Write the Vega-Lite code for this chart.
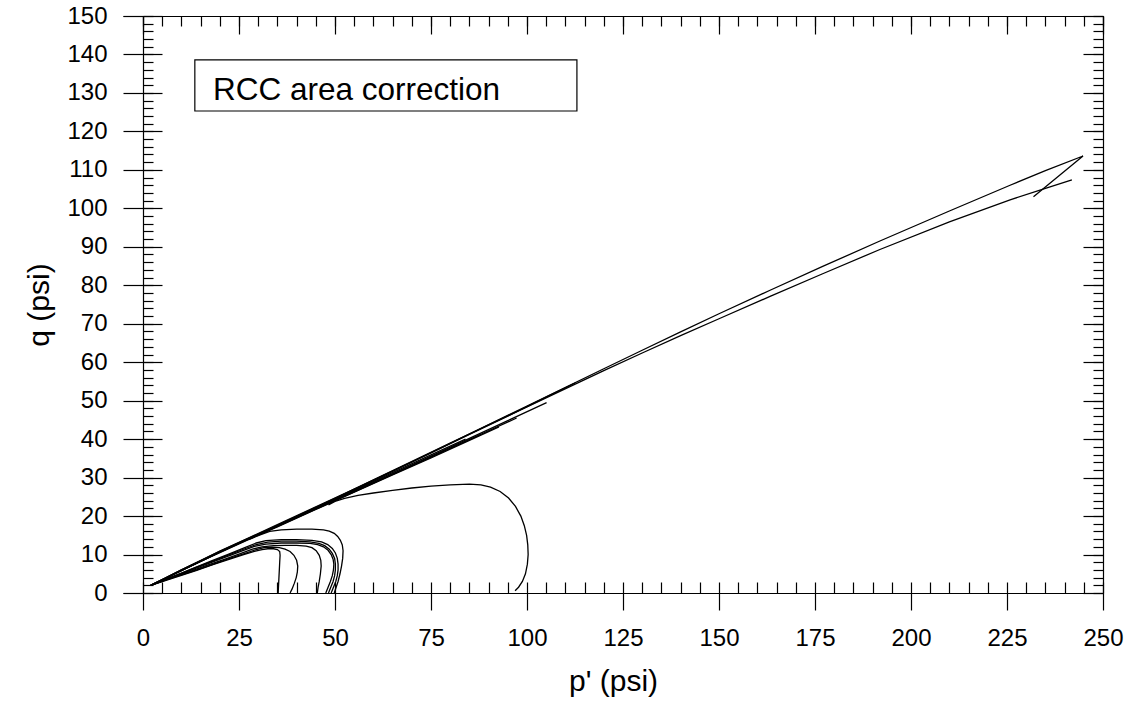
{
"$schema": "https://vega.github.io/schema/vega-lite/v6.json",
"width": 980, "height": 577,
"autosize": {"type": "none"},
"padding": {"left": 123, "top": 16, "right": 30, "bottom": 126},
"background": "white",
"config": {
 "view": {"stroke": null},
 "axis": {"grid": false, "domainColor": "black", "tickColor": "black", "labelColor": "black", "titleColor": "black",
  "labelFont": "Liberation Sans", "titleFont": "Liberation Sans", "labelFontSize": 24, "titleFontSize": 30,
  "titleFontWeight": "normal", "domainWidth": 1.2, "tickWidth": 1.2, "labelFlush": false, "labelOverlap": false}
},
"resolve": {"axis": {"x": "independent", "y": "independent"}},
"layer": [
 {
  "data": {"values": [
   {"t":"T1","i":0,"p":35.2,"q":0},{"t":"T1","i":1,"p":35.3,"q":2},{"t":"T1","i":2,"p":35.4,"q":4},{"t":"T1","i":3,"p":35.5,"q":6},{"t":"T1","i":4,"p":35.6,"q":8},{"t":"T1","i":5,"p":35.7,"q":9.8},{"t":"T1","i":6,"p":35.6,"q":10.8},{"t":"T1","i":7,"p":35.0,"q":11.3},{"t":"T1","i":8,"p":34.0,"q":11.5},{"t":"T1","i":9,"p":32.5,"q":11.5},{"t":"T1","i":10,"p":31,"q":11.3},{"t":"T1","i":11,"p":29,"q":10.8},{"t":"T1","i":12,"p":26,"q":9.9},{"t":"T1","i":13,"p":22,"q":8.6},{"t":"T1","i":14,"p":18,"q":7.3},{"t":"T1","i":15,"p":14,"q":5.9},{"t":"T1","i":16,"p":10,"q":4.6},{"t":"T1","i":17,"p":6,"q":3.3},{"t":"T1","i":18,"p":2,"q":2},{"t":"T1","i":19,"p":6,"q":3.9},{"t":"T1","i":20,"p":10,"q":5.8},{"t":"T1","i":21,"p":15,"q":8.2},{"t":"T1","i":22,"p":20,"q":10.5},{"t":"T1","i":23,"p":27,"q":13.7},{"t":"T1","i":24,"p":35,"q":17.2},{"t":"T1","i":25,"p":45,"q":21.7},{"t":"T1","i":26,"p":55,"q":26.2},{"t":"T1","i":27,"p":65,"q":30.7},{"t":"T1","i":28,"p":75,"q":35.1},{"t":"T1","i":29,"p":85,"q":39.7},{"t":"T1","i":30,"p":92.7,"q":43.2},
   {"t":"T2","i":0,"p":38.3,"q":0},{"t":"T2","i":1,"p":38.8,"q":1},{"t":"T2","i":2,"p":39.4,"q":2.5},{"t":"T2","i":3,"p":39.9,"q":4},{"t":"T2","i":4,"p":40.2,"q":5.5},{"t":"T2","i":5,"p":40.3,"q":7},{"t":"T2","i":6,"p":40,"q":8.5},{"t":"T2","i":7,"p":39.3,"q":9.8},{"t":"T2","i":8,"p":38.3,"q":10.8},{"t":"T2","i":9,"p":37,"q":11.4},{"t":"T2","i":10,"p":35.5,"q":11.8},{"t":"T2","i":11,"p":33.5,"q":11.9},{"t":"T2","i":12,"p":31.5,"q":11.8},{"t":"T2","i":13,"p":29.5,"q":11.3},{"t":"T2","i":14,"p":26,"q":10.1},{"t":"T2","i":15,"p":22,"q":8.8},{"t":"T2","i":16,"p":18,"q":7.4},{"t":"T2","i":17,"p":14,"q":6.0},{"t":"T2","i":18,"p":10,"q":4.7},{"t":"T2","i":19,"p":6,"q":3.4},{"t":"T2","i":20,"p":2,"q":2},{"t":"T2","i":21,"p":6,"q":3.9},{"t":"T2","i":22,"p":10,"q":5.8},{"t":"T2","i":23,"p":15,"q":8.2},{"t":"T2","i":24,"p":20,"q":10.6},{"t":"T2","i":25,"p":27,"q":13.8},{"t":"T2","i":26,"p":35,"q":17.3},{"t":"T2","i":27,"p":45,"q":21.8},{"t":"T2","i":28,"p":55,"q":26.3},{"t":"T2","i":29,"p":65,"q":30.8},{"t":"T2","i":30,"p":75,"q":35.3},{"t":"T2","i":31,"p":85,"q":39.9},{"t":"T2","i":32,"p":97.3,"q":45.5},
   {"t":"T3","i":0,"p":45.4,"q":0},{"t":"T3","i":1,"p":45.6,"q":1.5},{"t":"T3","i":2,"p":45.9,"q":3},{"t":"T3","i":3,"p":46.2,"q":5},{"t":"T3","i":4,"p":46.4,"q":7},{"t":"T3","i":5,"p":46.3,"q":8.5},{"t":"T3","i":6,"p":45.9,"q":9.8},{"t":"T3","i":7,"p":45.1,"q":11},{"t":"T3","i":8,"p":44,"q":11.8},{"t":"T3","i":9,"p":42.5,"q":12.2},{"t":"T3","i":10,"p":40,"q":12.4},{"t":"T3","i":11,"p":37,"q":12.4},{"t":"T3","i":12,"p":34,"q":12.3},{"t":"T3","i":13,"p":31,"q":12},{"t":"T3","i":14,"p":28.5,"q":11.4},{"t":"T3","i":15,"p":25,"q":10.1},{"t":"T3","i":16,"p":21,"q":8.7},{"t":"T3","i":17,"p":17,"q":7.3},{"t":"T3","i":18,"p":13,"q":5.9},{"t":"T3","i":19,"p":9,"q":4.5},{"t":"T3","i":20,"p":5,"q":3.1},{"t":"T3","i":21,"p":2,"q":2},{"t":"T3","i":22,"p":6,"q":3.9},{"t":"T3","i":23,"p":10,"q":5.9},{"t":"T3","i":24,"p":15,"q":8.3},{"t":"T3","i":25,"p":20,"q":10.7},{"t":"T3","i":26,"p":27,"q":13.9},{"t":"T3","i":27,"p":35,"q":17.5},{"t":"T3","i":28,"p":45,"q":22.0},{"t":"T3","i":29,"p":55,"q":26.5},{"t":"T3","i":30,"p":65,"q":31.0},{"t":"T3","i":31,"p":75,"q":35.6},{"t":"T3","i":32,"p":85,"q":40.2},{"t":"T3","i":33,"p":95,"q":44.8},{"t":"T3","i":34,"p":105.1,"q":49.5},
   {"t":"T4","i":0,"p":47.6,"q":0},{"t":"T4","i":1,"p":48.2,"q":1.5},{"t":"T4","i":2,"p":48.8,"q":3},{"t":"T4","i":3,"p":49.3,"q":4.5},{"t":"T4","i":4,"p":49.6,"q":6},{"t":"T4","i":5,"p":49.7,"q":7.5},{"t":"T4","i":6,"p":49.5,"q":8.8},{"t":"T4","i":7,"p":49,"q":10},{"t":"T4","i":8,"p":48.2,"q":11.1},{"t":"T4","i":9,"p":47,"q":12},{"t":"T4","i":10,"p":45.5,"q":12.6},{"t":"T4","i":11,"p":43.5,"q":12.9},{"t":"T4","i":12,"p":40,"q":13},{"t":"T4","i":13,"p":36,"q":13},{"t":"T4","i":14,"p":32,"q":12.7},{"t":"T4","i":15,"p":29,"q":12.1},{"t":"T4","i":16,"p":26,"q":11},{"t":"T4","i":17,"p":22,"q":9.5},{"t":"T4","i":18,"p":18,"q":8},{"t":"T4","i":19,"p":14,"q":6.5},{"t":"T4","i":20,"p":10,"q":5},{"t":"T4","i":21,"p":6,"q":3.5},{"t":"T4","i":22,"p":2,"q":2},{"t":"T4","i":23,"p":6,"q":4},{"t":"T4","i":24,"p":10,"q":6},{"t":"T4","i":25,"p":15,"q":8.4},{"t":"T4","i":26,"p":20,"q":10.9},{"t":"T4","i":27,"p":27,"q":14.1},{"t":"T4","i":28,"p":35,"q":17.8},{"t":"T4","i":29,"p":45,"q":22.4},{"t":"T4","i":30,"p":55,"q":27.0},{"t":"T4","i":31,"p":65,"q":31.7},{"t":"T4","i":32,"p":75,"q":36.4},{"t":"T4","i":33,"p":85,"q":41.2},{"t":"T4","i":34,"p":95,"q":46.0},{"t":"T4","i":35,"p":105,"q":50.9},{"t":"T4","i":36,"p":112.5,"q":54.6},
   {"t":"T5","i":0,"p":48.3,"q":0},{"t":"T5","i":1,"p":48.9,"q":1.5},{"t":"T5","i":2,"p":49.5,"q":3},{"t":"T5","i":3,"p":49.9,"q":4.5},{"t":"T5","i":4,"p":50.1,"q":6},{"t":"T5","i":5,"p":50.1,"q":7.5},{"t":"T5","i":6,"p":49.9,"q":9},{"t":"T5","i":7,"p":49.3,"q":10.3},{"t":"T5","i":8,"p":48.5,"q":11.4},{"t":"T5","i":9,"p":47.3,"q":12.3},{"t":"T5","i":10,"p":45.8,"q":12.9},{"t":"T5","i":11,"p":43.5,"q":13.3},{"t":"T5","i":12,"p":40,"q":13.5},{"t":"T5","i":13,"p":36,"q":13.5},{"t":"T5","i":14,"p":32.5,"q":13.2},{"t":"T5","i":15,"p":29.5,"q":12.6},{"t":"T5","i":16,"p":26.5,"q":11.5},{"t":"T5","i":17,"p":22,"q":9.8},{"t":"T5","i":18,"p":18,"q":8.2},{"t":"T5","i":19,"p":14,"q":6.7},{"t":"T5","i":20,"p":10,"q":5.1},{"t":"T5","i":21,"p":6,"q":3.6},{"t":"T5","i":22,"p":2,"q":2},{"t":"T5","i":23,"p":6,"q":3.9},{"t":"T5","i":24,"p":10,"q":5.9},{"t":"T5","i":25,"p":15,"q":8.2},{"t":"T5","i":26,"p":20,"q":10.6},{"t":"T5","i":27,"p":27,"q":13.8},{"t":"T5","i":28,"p":35,"q":17.4},{"t":"T5","i":29,"p":45,"q":21.9},{"t":"T5","i":30,"p":55,"q":26.4},{"t":"T5","i":31,"p":65,"q":30.9},{"t":"T5","i":32,"p":75,"q":35.4},{"t":"T5","i":33,"p":88,"q":41.2},
   {"t":"T6","i":0,"p":49,"q":0},{"t":"T6","i":1,"p":49.6,"q":1.5},{"t":"T6","i":2,"p":50.2,"q":3},{"t":"T6","i":3,"p":50.6,"q":4.5},{"t":"T6","i":4,"p":50.8,"q":6},{"t":"T6","i":5,"p":50.8,"q":7.5},{"t":"T6","i":6,"p":50.6,"q":9},{"t":"T6","i":7,"p":50.1,"q":10.4},{"t":"T6","i":8,"p":49.3,"q":11.6},{"t":"T6","i":9,"p":48.1,"q":12.6},{"t":"T6","i":10,"p":46.5,"q":13.3},{"t":"T6","i":11,"p":44,"q":13.7},{"t":"T6","i":12,"p":40,"q":13.9},{"t":"T6","i":13,"p":36,"q":13.9},{"t":"T6","i":14,"p":32,"q":13.6},{"t":"T6","i":15,"p":29.5,"q":13},{"t":"T6","i":16,"p":26.5,"q":11.8},{"t":"T6","i":17,"p":22,"q":10},{"t":"T6","i":18,"p":18,"q":8.4},{"t":"T6","i":19,"p":14,"q":6.8},{"t":"T6","i":20,"p":10,"q":5.2},{"t":"T6","i":21,"p":6,"q":3.6},{"t":"T6","i":22,"p":2,"q":2},{"t":"T6","i":23,"p":6,"q":4},{"t":"T6","i":24,"p":10,"q":6},{"t":"T6","i":25,"p":15,"q":8.4},{"t":"T6","i":26,"p":20,"q":10.8},{"t":"T6","i":27,"p":27,"q":14.0},{"t":"T6","i":28,"p":35,"q":17.6},{"t":"T6","i":29,"p":45,"q":22.2},{"t":"T6","i":30,"p":55,"q":26.7},{"t":"T6","i":31,"p":65,"q":31.3},{"t":"T6","i":32,"p":75,"q":35.9},{"t":"T6","i":33,"p":84,"q":40.0},
   {"t":"T7","i":0,"p":49.8,"q":0},{"t":"T7","i":1,"p":50.3,"q":1.5},{"t":"T7","i":2,"p":50.8,"q":3},{"t":"T7","i":3,"p":51.3,"q":5},{"t":"T7","i":4,"p":51.7,"q":7},{"t":"T7","i":5,"p":52,"q":9},{"t":"T7","i":6,"p":52.1,"q":11},{"t":"T7","i":7,"p":51.9,"q":12.5},{"t":"T7","i":8,"p":51.4,"q":13.7},{"t":"T7","i":9,"p":50.7,"q":14.7},{"t":"T7","i":10,"p":49.8,"q":15.5},{"t":"T7","i":11,"p":48.5,"q":16.1},{"t":"T7","i":12,"p":47,"q":16.4},{"t":"T7","i":13,"p":44,"q":16.6},{"t":"T7","i":14,"p":40,"q":16.6},{"t":"T7","i":15,"p":36,"q":16.4},{"t":"T7","i":16,"p":33,"q":16},{"t":"T7","i":17,"p":30.5,"q":15.1},{"t":"T7","i":18,"p":27.5,"q":13.9},{"t":"T7","i":19,"p":30,"q":15.1},{"t":"T7","i":20,"p":35,"q":17.5},{"t":"T7","i":21,"p":40,"q":19.9},{"t":"T7","i":22,"p":50,"q":24.6},{"t":"T7","i":23,"p":60,"q":29.4},{"t":"T7","i":24,"p":80,"q":39.0},{"t":"T7","i":25,"p":100,"q":48.4},{"t":"T7","i":26,"p":120,"q":57.8},{"t":"T7","i":27,"p":130,"q":62.4},{"t":"T7","i":28,"p":140,"q":66.9},{"t":"T7","i":29,"p":150,"q":71.3},{"t":"T7","i":30,"p":163.3,"q":77.1},{"t":"T7","i":31,"p":177,"q":83.0},{"t":"T7","i":32,"p":191.9,"q":89.3},{"t":"T7","i":33,"p":210,"q":96.5},{"t":"T7","i":34,"p":225.8,"q":102.2},{"t":"T7","i":35,"p":235,"q":105.2},{"t":"T7","i":36,"p":241.9,"q":107.4},
   {"t":"T8","i":0,"p":96.9,"q":0.6},{"t":"T8","i":1,"p":97.8,"q":1.5},{"t":"T8","i":2,"p":98.8,"q":3},{"t":"T8","i":3,"p":99.6,"q":5},{"t":"T8","i":4,"p":100.1,"q":7.5},{"t":"T8","i":5,"p":100.3,"q":10},{"t":"T8","i":6,"p":100.2,"q":12.5},{"t":"T8","i":7,"p":99.9,"q":15},{"t":"T8","i":8,"p":99.3,"q":17.5},{"t":"T8","i":9,"p":98.4,"q":20},{"t":"T8","i":10,"p":97,"q":22.5},{"t":"T8","i":11,"p":95.2,"q":24.7},{"t":"T8","i":12,"p":93,"q":26.4},{"t":"T8","i":13,"p":90.5,"q":27.5},{"t":"T8","i":14,"p":88,"q":28.1},{"t":"T8","i":15,"p":85,"q":28.3},{"t":"T8","i":16,"p":80,"q":28.1},{"t":"T8","i":17,"p":75,"q":27.8},{"t":"T8","i":18,"p":70,"q":27.3},{"t":"T8","i":19,"p":65,"q":26.7},{"t":"T8","i":20,"p":60,"q":26},{"t":"T8","i":21,"p":56,"q":25.4},{"t":"T8","i":22,"p":52.5,"q":24.6},{"t":"T8","i":23,"p":50,"q":23.8},{"t":"T8","i":24,"p":48.3,"q":22.9},{"t":"T8","i":25,"p":52,"q":25.3},{"t":"T8","i":26,"p":62,"q":30.2},{"t":"T8","i":27,"p":80,"q":38.9},{"t":"T8","i":28,"p":100,"q":48.6},{"t":"T8","i":29,"p":120,"q":58.3},{"t":"T8","i":30,"p":130,"q":63.1},{"t":"T8","i":31,"p":140,"q":67.9},{"t":"T8","i":32,"p":150,"q":72.6},{"t":"T8","i":33,"p":163.3,"q":78.7},{"t":"T8","i":34,"p":177,"q":84.9},{"t":"T8","i":35,"p":191.9,"q":91.5},{"t":"T8","i":36,"p":210,"q":99.3},{"t":"T8","i":37,"p":225.8,"q":106.0},{"t":"T8","i":38,"p":235,"q":109.8},{"t":"T8","i":39,"p":244.8,"q":113.6},{"t":"T8","i":40,"p":231.9,"q":103.0}
  ]},
  "mark": {"type": "line", "color": "black", "strokeWidth": 1.3, "interpolate": "linear"},
  "encoding": {
   "x": {"field": "p", "type": "quantitative", "scale": {"domain": [-5.2083, 250], "nice": false, "zero": false},
     "axis": {"orient": "bottom", "values": [0,25,50,75,100,125,150,175,200,225,250], "tickSize": 17, "labelPadding": 16, "title": "p' (psi)", "titlePadding": 16}},
   "y": {"field": "q", "type": "quantitative", "scale": {"domain": [0, 150], "nice": false, "zero": false},
     "axis": {"orient": "left", "offset": -20, "values": [0,10,20,30,40,50,60,70,80,90,100,110,120,130,140,150], "tickSize": 20, "labelPadding": 16, "title": "q (psi)", "titlePadding": 12}},
   "detail": {"field": "t"},
   "order": {"field": "i", "type": "quantitative"}
  }
 },
 {
  "data": {"values": [{}]},
  "mark": {"type": "point", "opacity": 0},
  "encoding": {
   "x": {"datum": 0, "type": "quantitative", "axis": {"orient": "bottom", "values": [0,5,10,15,20,25,30,35,40,45,50,55,60,65,70,75,80,85,90,95,100,105,110,115,120,125,130,135,140,145,150,155,160,165,170,175,180,185,190,195,200,205,210,215,220,225,230,235,240,245,250], "tickSize": -11, "labels": false, "domain": false, "title": null}},
   "y": {"datum": 0, "type": "quantitative", "axis": {"orient": "left", "offset": -20, "values": [0,2,4,6,8,10,12,14,16,18,20,22,24,26,28,30,32,34,36,38,40,42,44,46,48,50,52,54,56,58,60,62,64,66,68,70,72,74,76,78,80,82,84,86,88,90,92,94,96,98,100,102,104,106,108,110,112,114,116,118,120,122,124,126,128,130,132,134,136,138,140,142,144,146,148,150], "tickSize": -10, "labels": false, "domain": false, "title": null}}
  }
 },
 {
  "data": {"values": [{}]},
  "mark": {"type": "point", "opacity": 0},
  "encoding": {
   "x": {"datum": 0, "type": "quantitative", "axis": {"orient": "top", "values": [0,5,10,15,20,25,30,35,40,45,50,55,60,65,70,75,80,85,90,95,100,105,110,115,120,125,130,135,140,145,150,155,160,165,170,175,180,185,190,195,200,205,210,215,220,225,230,235,240,245,250], "tickSize": -10, "labels": false, "domain": true, "title": null}},
   "y": {"datum": 0, "type": "quantitative", "axis": {"orient": "left", "offset": -20, "values": [0,10,20,30,40,50,60,70,80,90,100,110,120,130,140,150], "tickSize": -19, "labels": false, "domain": false, "title": null}}
  }
 },
 {
  "data": {"values": [{}]},
  "mark": {"type": "point", "opacity": 0},
  "encoding": {
   "x": {"datum": 0, "type": "quantitative", "axis": {"orient": "top", "values": [0,25,50,75,100,125,150,175,200,225,250], "tickSize": -18, "labels": false, "domain": false, "title": null}},
   "y": {"datum": 0, "type": "quantitative", "axis": {"orient": "right", "values": [0,2,4,6,8,10,12,14,16,18,20,22,24,26,28,30,32,34,36,38,40,42,44,46,48,50,52,54,56,58,60,62,64,66,68,70,72,74,76,78,80,82,84,86,88,90,92,94,96,98,100,102,104,106,108,110,112,114,116,118,120,122,124,126,128,130,132,134,136,138,140,142,144,146,148,150], "tickSize": -10, "labels": false, "domain": true, "title": null}}
  }
 },
 {
  "data": {"values": [{}]},
  "mark": {"type": "point", "opacity": 0},
  "encoding": {
   "x": {"datum": 0, "type": "quantitative", "axis": null},
   "y": {"datum": 0, "type": "quantitative", "axis": {"orient": "right", "values": [0,10,20,30,40,50,60,70,80,90,100,110,120,130,140,150], "tickSize": -20, "labels": false, "domain": false, "title": null}}
  }
 },
 {
  "data": {"values": [{}]},
  "mark": {"type": "rect", "fill": "white", "stroke": "black", "strokeWidth": 1.2},
  "encoding": {
   "x": {"datum": 13.5, "type": "quantitative", "axis": null},
   "x2": {"datum": 113.0},
   "y": {"datum": 138.6, "type": "quantitative", "axis": null},
   "y2": {"datum": 125.3}
  }
 },
 {
  "data": {"values": [{}]},
  "mark": {"type": "text", "text": "RCC area correction", "align": "left", "baseline": "alphabetic", "fontSize": 31.5, "font": "Liberation Sans", "color": "black"},
  "encoding": {
   "x": {"datum": 18.2, "type": "quantitative", "axis": null},
   "y": {"datum": 128.2, "type": "quantitative", "axis": null}
  }
 }
]
}
